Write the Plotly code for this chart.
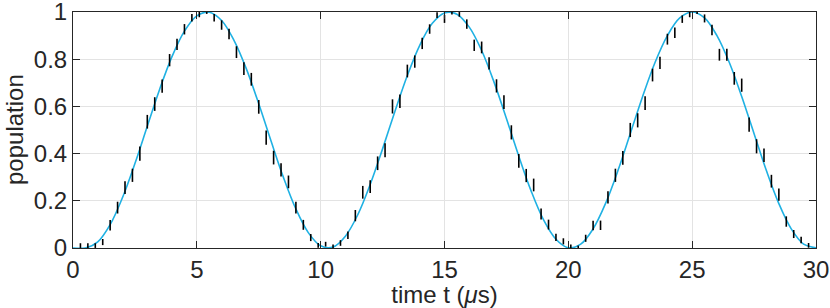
import plotly.graph_objects as go

# measured points (time in us, population, half error bar)
t_data = [0.3, 0.6, 0.9, 1.2, 1.5, 1.8, 2.1, 2.4, 2.7, 3.0,
          3.3, 3.6, 3.9, 4.2, 4.5, 4.8, 5.1, 5.4, 5.7, 6.0,
          6.3, 6.6, 6.9, 7.2, 7.5, 7.8, 8.1, 8.4, 8.7, 9.0,
          9.3, 9.6, 9.9, 10.2, 10.5, 10.8, 11.1, 11.4, 11.7, 12.0,
          12.3, 12.6, 12.9, 13.2, 13.5, 13.8, 14.1, 14.4, 14.7, 15.0,
          15.3, 15.6, 15.9, 16.2, 16.5, 16.8, 17.1, 17.4, 17.7, 18.0,
          18.3, 18.6, 18.9, 19.2, 19.5, 19.8, 20.1, 20.4, 20.7, 21.0,
          21.3, 21.6, 21.9, 22.2, 22.5, 22.8, 23.1, 23.4, 23.7, 24.0,
          24.3, 24.6, 24.9, 25.2, 25.5, 25.8, 26.1, 26.4, 26.7, 27.0,
          27.3, 27.6, 27.9, 28.2, 28.5, 28.8, 29.1, 29.4, 29.7]
pop_data = [0.010, 0.010, 0.010, 0.025, 0.096, 0.171, 0.256, 0.308, 0.400, 0.535,
            0.610, 0.686, 0.796, 0.863, 0.927, 0.976, 0.990, 1.000, 0.976, 0.945,
            0.907, 0.830, 0.760, 0.715, 0.598, 0.468, 0.383, 0.331, 0.280, 0.171,
            0.098, 0.044, 0.011, 0.016, 0.007, 0.021, 0.054, 0.137, 0.236, 0.260,
            0.359, 0.414, 0.600, 0.622, 0.750, 0.790, 0.867, 0.928, 0.987, 0.971,
            0.997, 0.990, 0.949, 0.859, 0.850, 0.782, 0.687, 0.618, 0.490, 0.369,
            0.307, 0.267, 0.144, 0.099, 0.045, 0.028, 0.007, 0.004, 0.041, 0.095,
            0.096, 0.214, 0.308, 0.382, 0.500, 0.541, 0.614, 0.733, 0.785, 0.885,
            0.912, 0.970, 0.990, 0.999, 0.973, 0.924, 0.819, 0.819, 0.719, 0.690,
            0.523, 0.431, 0.393, 0.283, 0.226, 0.112, 0.059, 0.034, 0.011]
err_data = [0.010, 0.010, 0.010, 0.013, 0.022, 0.025, 0.027, 0.028, 0.030, 0.029,
            0.029, 0.028, 0.026, 0.024, 0.022, 0.016, 0.012, 0.008, 0.016, 0.020,
            0.022, 0.025, 0.027, 0.027, 0.029, 0.030, 0.029, 0.028, 0.027, 0.025,
            0.021, 0.015, 0.010, 0.010, 0.008, 0.012, 0.016, 0.024, 0.027, 0.027,
            0.029, 0.030, 0.030, 0.029, 0.027, 0.026, 0.024, 0.020, 0.012, 0.017,
            0.007, 0.010, 0.020, 0.024, 0.025, 0.026, 0.028, 0.029, 0.030, 0.029,
            0.028, 0.027, 0.023, 0.021, 0.015, 0.013, 0.008, 0.006, 0.015, 0.020,
            0.020, 0.026, 0.028, 0.029, 0.030, 0.030, 0.029, 0.027, 0.026, 0.023,
            0.022, 0.016, 0.012, 0.007, 0.017, 0.022, 0.025, 0.025, 0.027, 0.028,
            0.030, 0.030, 0.029, 0.027, 0.026, 0.022, 0.017, 0.014, 0.010]

# fitted curve, every 0.5 us
t_fit = [0.0, 0.5, 1.0, 1.5, 2.0, 2.5, 3.0, 3.5, 4.0, 4.5,
         5.0, 5.5, 6.0, 6.5, 7.0, 7.5, 8.0, 8.5, 9.0, 9.5,
         10.0, 10.5, 11.0, 11.5, 12.0, 12.5, 13.0, 13.5, 14.0, 14.5,
         15.0, 15.5, 16.0, 16.5, 17.0, 17.5, 18.0, 18.5, 19.0, 19.5,
         20.0, 20.5, 21.0, 21.5, 22.0, 22.5, 23.0, 23.5, 24.0, 24.5,
         25.0, 25.5, 26.0, 26.5, 27.0, 27.5, 28.0, 28.5, 29.0, 29.5, 30.0]
pop_fit = [0.0, 0.0, 0.026, 0.099, 0.214, 0.358, 0.516, 0.673, 0.812, 0.919,
           0.984, 0.999, 0.964, 0.880, 0.759, 0.611, 0.452, 0.298, 0.165, 0.065,
           0.009, 0.004, 0.050, 0.141, 0.269, 0.420, 0.580, 0.731, 0.859, 0.951,
           0.996, 0.991, 0.936, 0.837, 0.703, 0.549, 0.389, 0.241, 0.119, 0.037,
           0.001, 0.016, 0.081, 0.188, 0.327, 0.484, 0.642, 0.786, 0.900, 0.975,
           1.000, 0.975, 0.900, 0.786, 0.642, 0.484, 0.327, 0.188, 0.081, 0.016, 0.001]

x_ticks = [0, 5, 10, 15, 20, 25, 30]
y_ticks = [0, 0.2, 0.4, 0.6, 0.8, 1]
y_labels = ['0', '0.2', '0.4', '0.6', '0.8', '1']

ink = '#262626'
font = 'Liberation Sans, Arial, sans-serif'

fig = go.Figure()
fig.add_trace(go.Scatter(x=t_fit, y=pop_fit, mode='lines', line_shape='spline',
                         line=dict(color='#1fb1e3', width=1.6), showlegend=False))
fig.add_trace(go.Scatter(x=t_data, y=pop_data, mode='markers',
                         marker=dict(size=1, color='rgba(0,0,0,0)'),
                         error_y=dict(type='data', array=err_data, visible=True,
                                      color='black', thickness=1.6, width=0),
                         showlegend=False))

axis_common = dict(showline=True, linecolor=ink, linewidth=1, mirror='ticks',
                   ticks='inside', ticklen=7, tickcolor=ink, tickwidth=1,
                   showgrid=True, gridcolor='#e3e3e3', gridwidth=1, zeroline=False,
                   automargin=False, ticklabeloverflow='allow',
                   tickfont=dict(family=font, size=24, color=ink),
                   title_font=dict(family=font, size=24, color=ink))

fig.update_xaxes(range=[0, 30], tickvals=x_ticks, title_text='time t (<i>μ</i>s)',
                 title_standoff=0, **axis_common)
fig.update_yaxes(range=[-0.0002, 1.0002], tickvals=y_ticks, ticktext=y_labels,
                 **axis_common)

# y title placed by hand so it sits close to the left edge like the original
fig.add_annotation(text='population', textangle=-90, xref='paper', yref='paper',
                   x=0, y=0.5, xanchor='center', yanchor='middle', xshift=-59,
                   showarrow=False, font=dict(family=font, size=24, color=ink))

fig.update_layout(width=830, height=308, plot_bgcolor='white', paper_bgcolor='white',
                  margin=dict(l=73, r=14, t=12, b=60))
fig.write_html("out.html", config={'displayModeBar': False},
               post_script="document.body.style.margin='0';")
